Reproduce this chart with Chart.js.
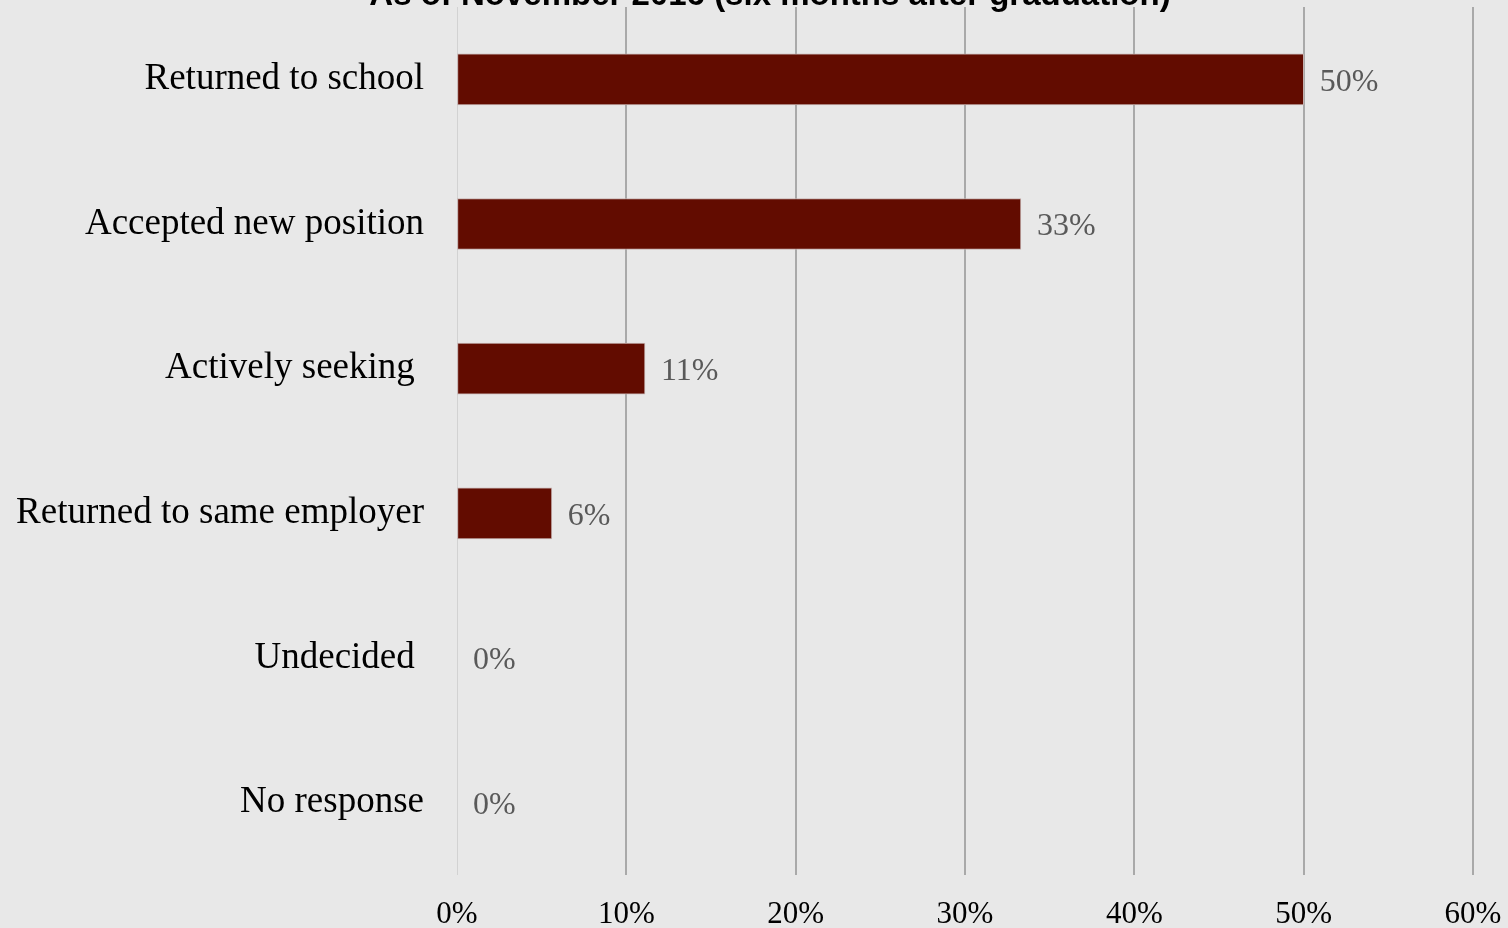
<!DOCTYPE html>
<html>
<head>
<meta charset="utf-8">
<script src="https://cdn.jsdelivr.net/npm/chart.js@4/dist/chart.umd.min.js"></script>
<style>
  html, body { margin: 0; padding: 0; background: #e8e8e8; overflow: hidden; }
  #wrap { position: relative; width: 1508px; height: 928px; }
</style>
</head>
<body>
<div id="wrap"><canvas id="myChart"></canvas></div>
<script>
// data
var categories = ['Returned to school', 'Accepted new position', 'Actively seeking ', 'Returned to same employer', 'Undecided ', 'No response'];
var shares = [50, 33.3, 11.1, 5.6, 0, 0];
var titleText = 'As of November 2016 (six months after graduation)';

var serif = '"Liberation Serif", "Times New Roman", serif';

// title sits mostly above the top edge, like in the original
var titlePlugin = {
  id: 'cutTitle',
  afterDraw: function(chart){
    var c = chart.ctx;
    c.save();
    c.font = 'bold 33px "Liberation Sans", Arial, sans-serif';
    c.fillStyle = '#000';
    c.textAlign = 'center';
    c.textBaseline = 'alphabetic';
    c.fillText(titleText, 770, 5);
    c.restore();
  }
};

// value labels at the bar ends
var valuePlugin = {
  id: 'valueLabels',
  afterDatasetsDraw: function(chart){
    var c = chart.ctx;
    var meta = chart.getDatasetMeta(0);
    c.save();
    c.font = '32px ' + serif;
    c.fillStyle = '#595959';
    c.textAlign = 'left';
    c.textBaseline = 'middle';
    meta.data.forEach(function(bar, i){
      c.fillText(Math.round(shares[i]) + '%', bar.x + 16, bar.y + 3);
    });
    c.restore();
  }
};

var ctx = document.getElementById('myChart');
var barGraph = new Chart(ctx, {
  type: 'bar',
  data: {
    labels: categories,
    datasets: [{
      data: shares,
      backgroundColor: '#620c00',
      borderColor: '#c4b0ae',
      borderWidth: 1,
      borderSkipped: false,
      barThickness: 51
    }]
  },
  options: {
    indexAxis: 'y',
    responsive: true,
    maintainAspectRatio: false,
    animation: false,
    layout: { padding: { top: 7, right: 35, bottom: 0, left: 0 } },
    plugins: {
      legend: { display: false },
      tooltip: { enabled: false },
      title: { display: false }
    },
    scales: {
      x: {
        min: 0,
        max: 60,
        ticks: {
          stepSize: 10,
          padding: 21,
          color: '#000',
          font: { family: serif, size: 31 },
          maxRotation: 0,
          callback: function(v){ return v + '%'; }
        },
        grid: {
          drawTicks: false,
          lineWidth: function(c){ return c.tick && c.tick.value === 0 ? 1 : 2; },
          color: function(c){ return c.tick && c.tick.value === 0 ? '#d2d2d2' : '#a9a9a9'; }
        },
        border: { display: false },
        afterFit: function(axis){
          axis.height = 53;
          axis.paddingLeft = 0;
          axis.paddingRight = 0;
        }
      },
      y: {
        ticks: {
          padding: 33,
          color: '#000',
          font: { family: serif, size: 37 }
        },
        grid: { display: false, drawTicks: false },
        border: { display: false },
        afterFit: function(axis){
          axis.width = 457;
          axis.paddingTop = 0;
          axis.paddingBottom = 0;
        }
      }
    }
  },
  plugins: [titlePlugin, valuePlugin]
});
</script>
</body>
</html>
